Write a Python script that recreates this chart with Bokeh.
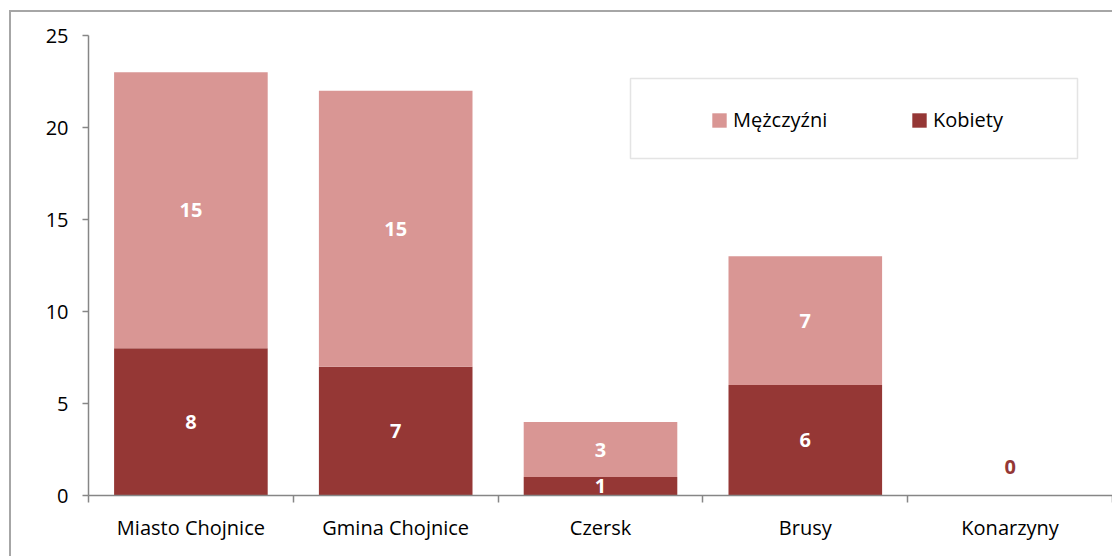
from bokeh.plotting import figure
from bokeh.models import (ColumnDataSource, FixedTicker, LabelSet, Legend, LegendItem,
                          BoxAnnotation, Range1d, InlineStyleSheet)
from bokeh.core.properties import value
from bokeh.embed import file_html
from bokeh.resources import INLINE

categories = ["Miasto Chojnice", "Gmina Chojnice", "Czersk", "Brusy", "Konarzyny"]
kobiety = [8, 7, 1, 6, 0]
mezczyzni = [15, 15, 3, 7, 0]
y_ticks = [0, 5, 10, 15, 20, 25]

LIGHT = "#D99694"
DARK = "#953735"
FONT = "Open Sans"
AXIS = "#868686"

xs = [i + 0.5 for i in range(len(categories))]
src = ColumnDataSource(dict(x=xs, kobiety=kobiety, mezczyzni=mezczyzni,
                            top_k=kobiety,
                            top_m=[k + m for k, m in zip(kobiety, mezczyzni)]))

p = figure(width=1112, height=556, output_backend="svg", toolbar_location=None,
           x_range=Range1d(0, len(categories)), y_range=Range1d(0, 25),
           min_border_left=88, min_border_right=0, min_border_top=35, min_border_bottom=61)
p.outline_line_color = None
p.grid.visible = False
p.background_fill_color = "white"
p.border_fill_color = "white"

rk = p.vbar(x="x", bottom=0, top="top_k", width=0.75, source=src,
            fill_color=DARK, line_color=None)
rm = p.vbar(x="x", bottom="top_k", top="top_m", width=0.75, source=src,
            fill_color=LIGHT, line_color=None)

# axes
xa = p.xaxis[0]
xa.ticker = FixedTicker(ticks=xs, minor_ticks=list(range(len(categories) + 1)))
xa.major_label_overrides = {x: c for x, c in zip(xs, categories)}
xa.major_tick_out = 0
xa.major_tick_in = 0
xa.minor_tick_out = 7
xa.minor_tick_in = 0
xa.minor_tick_line_color = AXIS
xa.axis_line_color = AXIS
xa.axis_line_width = 1.5
xa.minor_tick_line_width = 1.5
xa.major_label_text_font = FONT
xa.major_label_text_font_size = "20px"
xa.major_label_text_color = "#000000"
xa.major_label_standoff = 11

ya = p.yaxis[0]
ya.ticker = FixedTicker(ticks=y_ticks)
ya.minor_tick_line_color = None
ya.major_tick_out = 6
ya.major_tick_in = 0
ya.major_tick_line_color = AXIS
ya.major_tick_line_width = 1.5
ya.axis_line_color = AXIS
ya.axis_line_width = 1.5
ya.major_label_text_font = FONT
ya.major_label_text_font_size = "20px"
ya.major_label_text_color = "#000000"
ya.major_label_standoff = 14

# value labels
nz_k = [i for i, v in enumerate(kobiety) if v > 0]
nz_m = [i for i, v in enumerate(mezczyzni) if v > 0]
lab_k = ColumnDataSource(dict(x=[xs[i] for i in nz_k], y=[kobiety[i] / 2 for i in nz_k],
                              t=[str(kobiety[i]) for i in nz_k]))
lab_m = ColumnDataSource(dict(x=[xs[i] for i in nz_m],
                              y=[kobiety[i] + mezczyzni[i] / 2 for i in nz_m],
                              t=[str(mezczyzni[i]) for i in nz_m]))
zero_i = [i for i in range(len(categories)) if kobiety[i] + mezczyzni[i] == 0]
lab_0 = ColumnDataSource(dict(x=[xs[i] for i in zero_i], y=[0 for i in zero_i],
                              t=[str(kobiety[i]) for i in zero_i]))
for s in (lab_k, lab_m):
    p.add_layout(LabelSet(x="x", y="y", text="t", source=s, text_align="center",
                          text_baseline="middle", text_color="white",
                          text_font=value(FONT), text_font_style="bold",
                          text_font_size="20px"))
p.add_layout(LabelSet(x="x", y="y", text="t", source=lab_0, text_align="center",
                      text_baseline="middle", text_color=DARK, y_offset=29,
                      text_font=value(FONT), text_font_style="bold",
                      text_font_size="20px"))

# legend box
p.add_layout(BoxAnnotation(left=630, right=1077, top=78, bottom=158,
                           left_units="canvas", right_units="canvas",
                           top_units="canvas", bottom_units="canvas",
                           fill_color="white", fill_alpha=1.0,
                           line_color="#a6a6a6", line_width=1.5, level="overlay"))
legend = Legend(items=[LegendItem(label="Mężczyźni", renderers=[rm]),
                       LegendItem(label="Kobiety", renderers=[rk])],
                orientation="horizontal", location=(622, 362),
                padding=0, margin=0, spacing=27, label_width=150,
                glyph_width=18, glyph_height=18, label_height=18,
                label_standoff=5, border_line_color=None,
                background_fill_alpha=0.0,
                label_text_font=FONT, label_text_font_size="20px",
                label_text_color="#000000")
p.add_layout(legend)

# outer chart frame (left and top edges of the chart area)
p.stylesheets = [InlineStyleSheet(css="""
:host::after {
  content: "";
  position: absolute;
  left: 9px; top: 10px; right: 0; bottom: 0;
  border-left: 2px solid #a6a6a6;
  border-top: 2px solid #a6a6a6;
  pointer-events: none;
  z-index: 5;
}
""")]

open("out.html", "w").write(file_html(p, INLINE))
